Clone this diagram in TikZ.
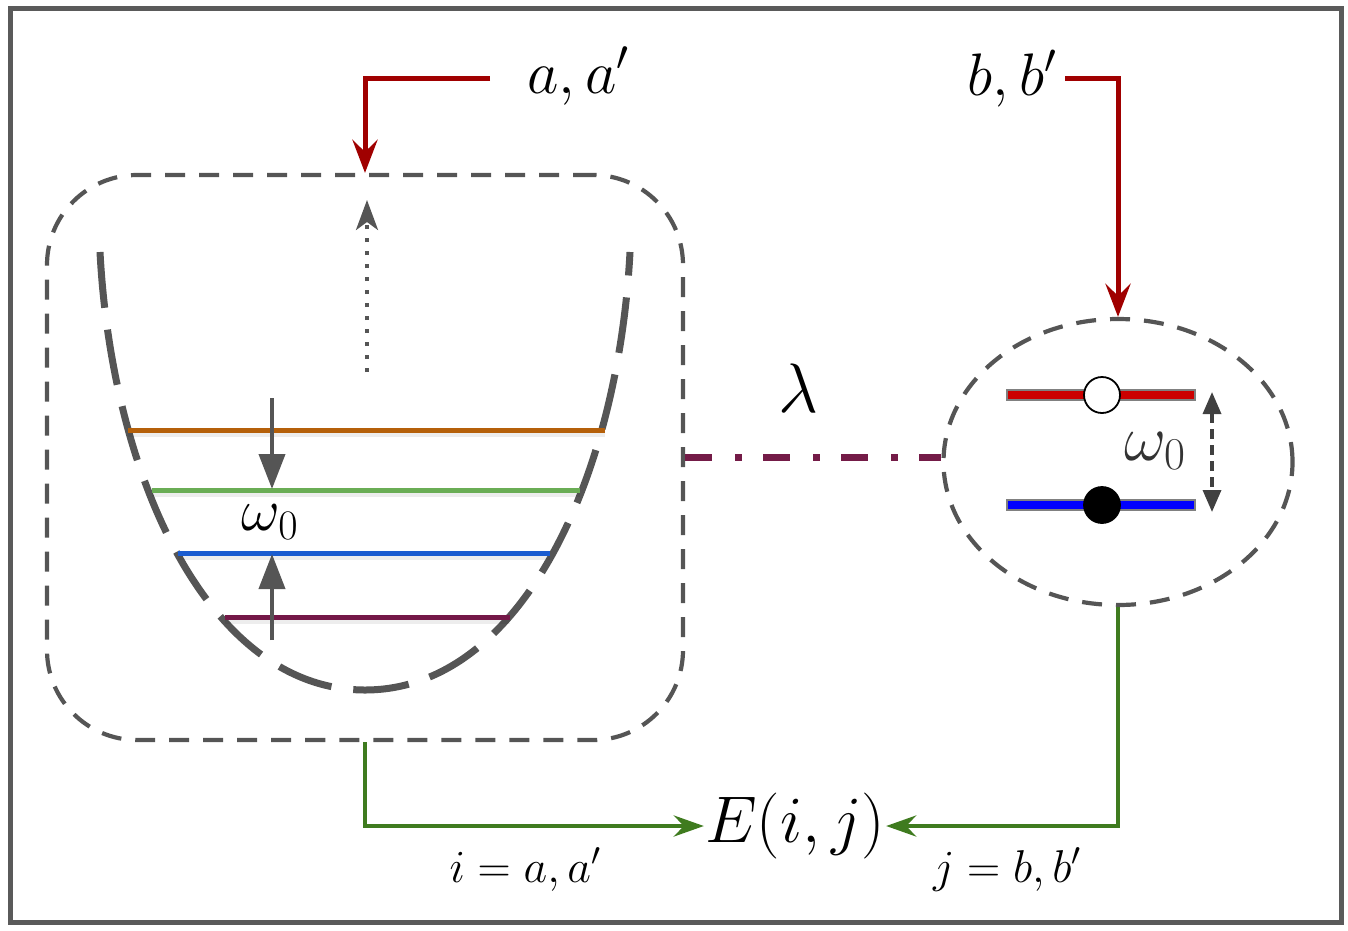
\RequirePackage{fix-cm}
\documentclass[tikz,border=0pt]{standalone}
\usetikzlibrary{arrows.meta,shapes.geometric}
\definecolor{framegray}{HTML}{5A5A5A}
\definecolor{dgray}{HTML}{555555}
\definecolor{dred}{HTML}{A00000}
\definecolor{dgreen}{HTML}{3F7B1F}
\definecolor{lorange}{HTML}{B5600A}
\definecolor{lgreen}{HTML}{6AAD55}
\definecolor{lblue}{HTML}{1A5CD0}
\definecolor{lpurple}{HTML}{741848}
\definecolor{cpurple}{HTML}{741B47}
\definecolor{barred}{HTML}{CC0000}
\definecolor{barblue}{HTML}{0000FF}
\tikzset{
  frame/.style={draw=framegray, line width=5pt},
  boxdash/.style={draw=dgray, line width=4.2pt, dash pattern=on 20pt off 14pt, inner sep=0pt},
  well/.style={draw=dgray, line width=7pt, dash pattern=on 56pt off 22pt},
  level/.style={line width=5pt},
  lshadow/.style={line width=5pt, draw=black, opacity=0.07},
  redarrow/.style={draw=dred, line width=5pt, -{Stealth[length=33pt,width=25pt,inset=12pt]}},
  greenarrow/.style={draw=dgreen, line width=4.6pt, -{Stealth[length=30pt,width=21pt,inset=10pt]}},
  grayarrow/.style={draw=dgray, line width=4pt, -{Triangle[length=35pt,width=26pt]}},
  dotarrow/.style={draw=dgray, line width=3.6pt, dash pattern=on 4pt off 9pt, -{Stealth[length=30pt,width=22pt,inset=8pt]}},
  gaparrow/.style={draw=black!75, line width=3.4pt, dash pattern=on 10pt off 6pt, {Triangle[length=22pt,width=18pt]}-{Triangle[length=22pt,width=18pt]}},
  coupling/.style={draw=cpurple, line width=7pt, dash pattern=on 27pt off 23pt on 7pt off 21pt},
  bar/.style={draw=gray, line width=1.8pt},
  dot/.style={circle, draw=black, line width=1.8pt, minimum size=36pt, inner sep=0pt},
  lbl/.style={inner sep=0pt, anchor=base},
}
\begin{document}
\begin{tikzpicture}[x=1pt,y=-1pt]
\useasboundingbox (0,0) rectangle (1348,930);
\draw[frame] (10.5,8.5) rectangle (1341,922);

% harmonic oscillator box
\node[boxdash, rectangle, rounded corners=90pt, minimum width=636pt, minimum height=565pt] (hosc) at (365,457.5) {};
% qubit ellipse
\node[boxdash, ellipse, minimum width=349pt, minimum height=286pt] (qubit) at (1118,462) {};

% potential well
\draw[well] (100,252) .. controls (112,480) and (210,690) .. (365,690)
                      .. controls (520,690) and (618,480) .. (630,252);

% level shadows
\draw[lshadow] (128,434) -- (605,434);
\draw[lshadow] (152,494) -- (580,494);
\draw[lshadow] (178,557) -- (550,557);
\draw[lshadow] (225,621) -- (510,621);
% levels
\draw[level, lorange] (128,430) -- (605,430);
\draw[level, lgreen] (152,490) -- (580,490);
\draw[level, lblue] (178,553) -- (550,553);
\draw[level, lpurple] (225,617) -- (510,617);

% omega arrows
\coordinate (dnstart) at (272,398);
\coordinate (dnend) at (272,489);
\coordinate (upstart) at (272,640);
\coordinate (upend) at (272,554);
\draw[grayarrow] (dnstart) -- (dnend);
\draw[grayarrow] (upstart) -- (upend);
\node[lbl, font=\fontsize{60}{66}\selectfont] (wleft) at (270,530) {$\omega_0$};

% dotted arrow
\coordinate (dotstart) at (367,372);
\coordinate (dotend) at (367,200);
\draw[dotarrow] (dotstart) -- (dotend);

% qubit levels
\draw[bar, fill=barred] (1007,390) rectangle (1195,400);
\draw[bar, fill=barblue] (1007,500) rectangle (1195,510);
\node[dot, fill=white] (ex) at (1102,395) {};
\node[dot, fill=black] (gs) at (1102,505) {};
\coordinate (gtop) at (1212,392);
\coordinate (gbot) at (1212,512);
\draw[gaparrow] (gtop) -- (gbot);
\node[lbl, font=\fontsize{65}{70}\selectfont, text=black!80] (wright) at (1155,460) {$\omega_0$};

% coupling
\node[lbl, font=\fontsize{70}{76}\selectfont] (lam) at (798,412) {$\lambda$};
\draw[coupling] (hosc.east) -- (hosc.east -| qubit.west);

% labels top
\node[lbl, font=\fontsize{61}{66}\selectfont] (alab) at (578,93) {$a,a'$};
\node[lbl, font=\fontsize{60}{66}\selectfont] (blab) at (1012,95) {$b,b'$};
\coordinate (astart) at (490,78);
\coordinate (bstart) at (1065,78);
\draw[redarrow] (astart) -| (hosc.north);
\draw[redarrow] (bstart) -| (qubit.north);

% energy
\node[inner sep=1pt, font=\fontsize{66}{72}\selectfont] (E) at (795,826) {$E(i,j)$};
\draw[greenarrow] (hosc.south) |- (E.west);
\draw[greenarrow] (qubit.south) |- (E.east);
\node[lbl, font=\fontsize{46}{50}\selectfont] (ilab) at (525,882) {$i=a,a'$};
\node[lbl, font=\fontsize{46}{50}\selectfont] (jlab) at (1007,882) {$j=b,b'$};
\end{tikzpicture}
\end{document}
